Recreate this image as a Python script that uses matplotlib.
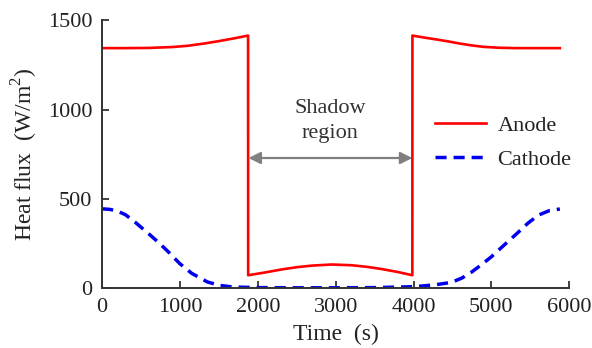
"""
Heat flux on anode / cathode over one orbit
"""
import matplotlib.pyplot as plt

plt.rcParams['font.family'] = ['Liberation Serif', 'DejaVu Serif']
plt.rcParams['mathtext.fontset'] = 'custom'
plt.rcParams['mathtext.rm'] = 'Liberation Serif'

# DATA

anode_t = [0, 300, 600, 900, 1100, 1300, 1500, 1700, 1875,
           1876, 2100, 2300, 2500, 2700, 2950, 3200, 3400, 3600, 3800, 3985,
           3986, 4150, 4300, 4450, 4600, 4750, 4900, 5100, 5300, 5600, 5880]
anode_q = [1343, 1343, 1344, 1349, 1356, 1368, 1382, 1398, 1413,
           74, 90, 106, 119, 128, 134, 130, 121, 108, 92, 74,
           1413, 1401, 1391, 1380, 1368, 1358, 1350, 1345, 1343, 1343, 1343]

cathode_t = [0, 100, 200, 300, 420, 600, 715, 850, 995, 1150, 1350, 1500, 1650, 1800,
             2000, 2500, 3000, 3500, 4000, 4140, 4300, 4485, 4620, 4740, 4870, 5000,
             5170, 5330, 5470, 5605, 5750, 5880]
cathode_q = [445, 442, 432, 412, 372, 305, 261, 205, 140, 85, 37, 18, 10, 7,
             5, 4, 4, 5, 10, 15, 22, 34, 58, 90, 132, 177,
             245, 308, 365, 410, 436, 444]

x_ticks = [0, 1000, 2000, 3000, 4000, 5000, 6000]
y_ticks = [0, 500, 1000, 1500]

# PLOT

fig = plt.figure(figsize=(5.92, 3.48), dpi=100)
ax = fig.add_axes([0.1725, 0.171, 0.789, 0.7715])

ax.plot(anode_t, anode_q, color='#ff0000', lw=1.9, label='Anode')
ax.plot(cathode_t, cathode_q, color='#0000ee', lw=2.5, ls=(0, (3.2, 2.0)), label='Cathode')

# shadow region arrow
ax.annotate('', xy=(1880, 729), xytext=(3985, 729),
            arrowprops=dict(arrowstyle='<|-|>', color='#808080', lw=1.6,
                            mutation_scale=18, shrinkA=0, shrinkB=0))
ax.text(2930, 935, 'Shadow\nregion', ha='center', va='center', fontsize=16,
        color='#333333', linespacing=1.4)

ax.set_xlim(0, 6000)
ax.set_ylim(0, 1500)
ax.set_xticks(x_ticks)
ax.set_yticks(y_ticks)
ax.tick_params(direction='in', length=5, width=1.2, labelsize=16, colors='#222222', pad=7)
for side in ['top', 'right']:
    ax.spines[side].set_visible(False)
for side in ['left', 'bottom']:
    ax.spines[side].set_linewidth(1.4)
    ax.spines[side].set_color('#333333')

ax.set_xlabel('Time  (s)', fontsize=17, color='#222222', labelpad=5)
ax.set_ylabel('Heat flux  (W/m$^2$)', fontsize=17, color='#222222', labelpad=6)

ax.legend(loc='upper left', bbox_to_anchor=(0.67, 0.72), frameon=False, fontsize=16,
          handlelength=2.3, handletextpad=0.5, labelspacing=0.6, labelcolor='#222222')

plt.savefig('out.png', dpi=100)
